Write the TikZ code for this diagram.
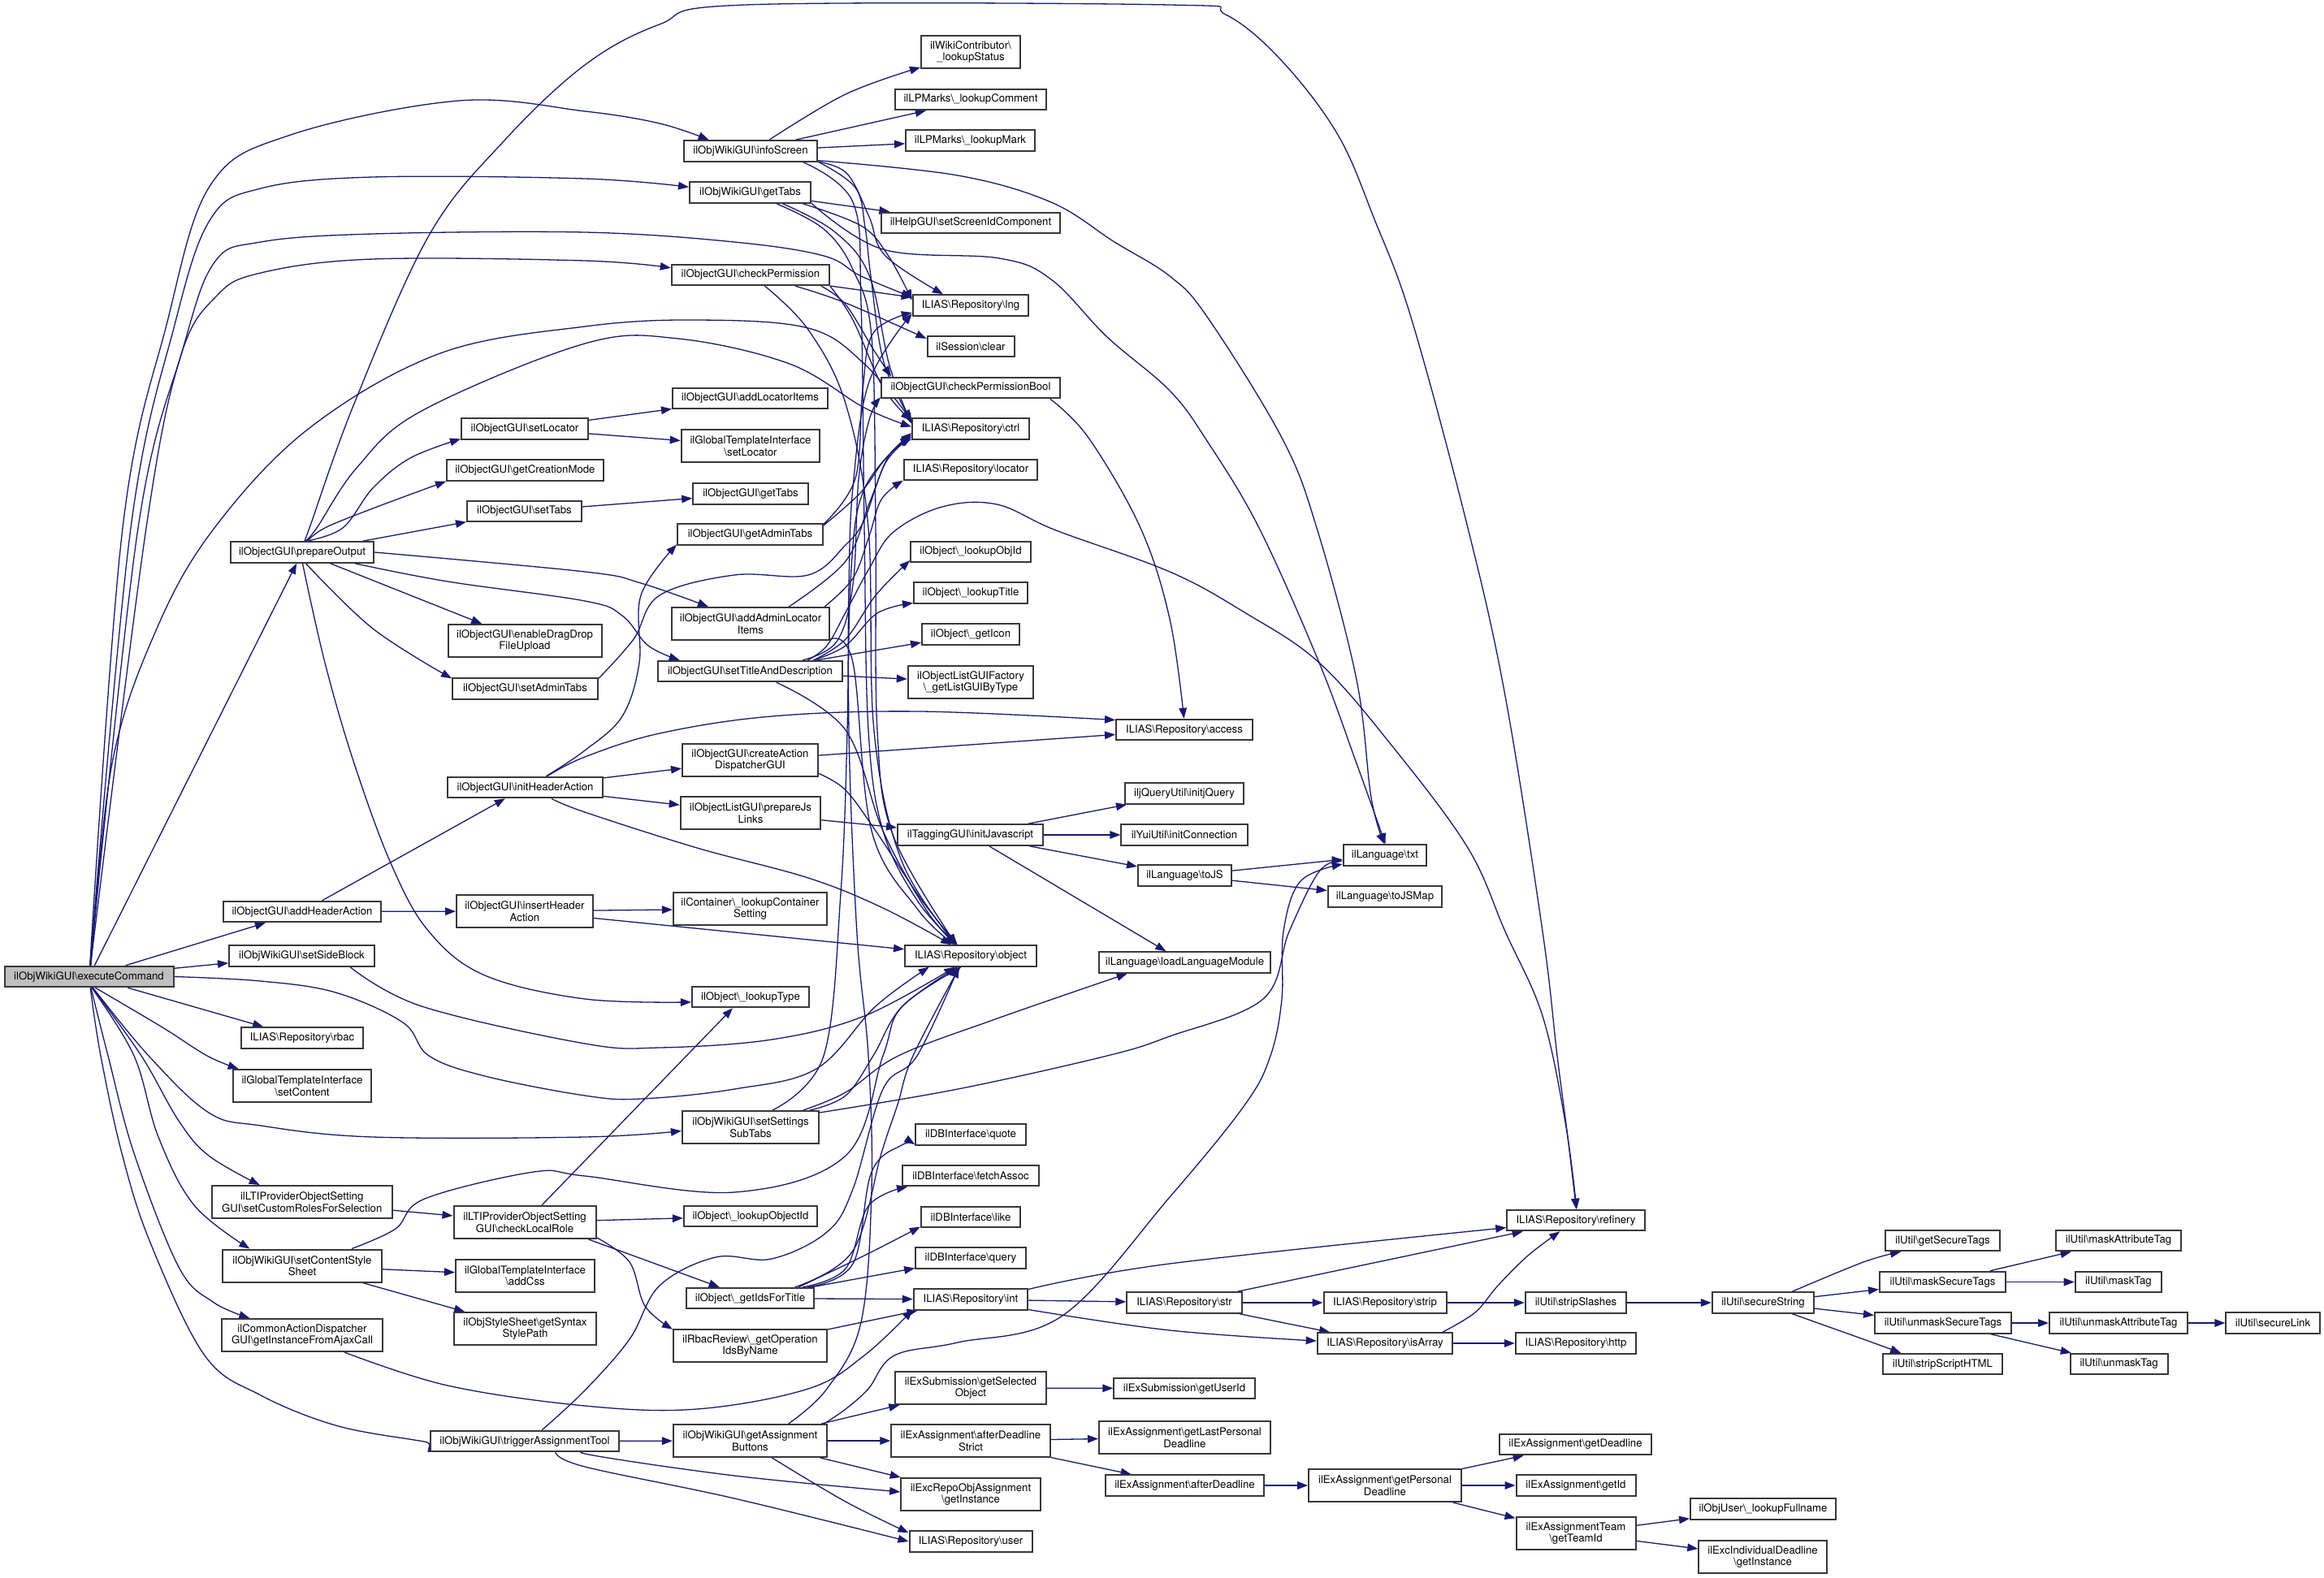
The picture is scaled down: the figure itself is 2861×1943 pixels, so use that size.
\documentclass[tikz,border=0pt]{standalone}
\usepackage{fontspec}
\setmainfont{TeX Gyre Heros}
\usetikzlibrary{arrows.meta}
\definecolor{edgeblue}{HTML}{191970}
\definecolor{boxline}{HTML}{383838}
\definecolor{rootfill}{HTML}{BFBFBF}
\newcommand\BSx{\textbackslash}
\pgfdeclarelayer{bg}
\pgfdeclarelayer{paper}
\pgfsetlayers{paper,bg,main}
\newcommand\ndA[4]{\node[fn,minimum width=#3pt,minimum height=12.75pt] (#1) at (#2) {#4};}
\newcommand\ndB[4]{\node[fn,minimum width=#3pt,minimum height=20pt] (#1) at (#2) {#4};}
\begin{document}
\begin{tikzpicture}[x=0.5pt,y=-0.5pt,
  fn/.style={draw=boxline,line width=1pt,fill=white,inner sep=0pt,align=center,
    font=\fontsize{6.6}{7.3}\selectfont},
  cx/.style={draw=edgeblue,line width=0.65pt,line join=round,-{Triangle[length=6.5pt,width=4.8pt]}}]
\useasboundingbox (0,0) rectangle (2861,1943);
\begin{pgfonlayer}{paper}
\fill[white] (0,0) rectangle (2861,1943);
\end{pgfonlayer}
% ---------------- nodes ----------------
\node[fn,fill=rootfill,minimum width=104pt,minimum height=12.75pt] (E) at (109.5,1202.5) {ilObjWikiGUI\BSx executeCommand};
\ndA{prepareOutput}{372,680}{88}{ilObjectGUI\BSx prepareOutput}
\ndA{addHeaderAction}{372,1122.5}{97.2}{ilObjectGUI\BSx addHeaderAction}
\ndA{setSideBlock}{371.5,1177}{89.5}{ilObjWikiGUI\BSx setSideBlock}
\ndA{rbac}{372,1278}{75.2}{ILIAS\BSx Repository\BSx rbac}
\ndB{setContent}{372,1337}{85.2}{ilGlobalTemplateInterface\\\BSx setContent}
\ndB{setCustomRoles}{371.7,1480}{111}{ilLTIProviderObjectSetting\\GUI\BSx setCustomRolesForSelection}
\ndB{setContentStyleSheet}{372,1558.5}{98.2}{ilObjWikiGUI\BSx setContentStyle\\Sheet}
\ndB{ajax}{372,1644}{98.8}{ilCommonActionDispatcher\\GUI\BSx getInstanceFromAjaxCall}
\ndA{setLocator}{646,528}{78}{ilObjectGUI\BSx setLocator}
\ndA{getCreationMode}{646.5,579}{96.5}{ilObjectGUI\BSx getCreationMode}
\ndA{setTabs}{645.5,629.5}{70.5}{ilObjectGUI\BSx setTabs}
\ndB{enableDragDrop}{646,789}{94.5}{ilObjectGUI\BSx enableDragDrop\\FileUpload}
\ndA{setAdminTabs}{646.5,848}{89.5}{ilObjectGUI\BSx setAdminTabs}
\ndA{initHeaderAction}{646.5,969.5}{95.5}{ilObjectGUI\BSx initHeaderAction}
\ndB{insertHeaderAction}{646,1122}{84}{ilObjectGUI\BSx insertHeader\\Action}
\ndB{checkLocalRole}{646,1505}{87.5}{ilLTIProviderObjectSetting\\GUI\BSx checkLocalRole}
\ndB{addCss}{646.5,1570.5}{85.5}{ilGlobalTemplateInterface\\\BSx addCss}
\ndB{getSyntaxStylePath}{646.5,1636}{87.6}{ilObjStyleSheet\BSx getSyntax\\StylePath}
\ndA{triggerAssignmentTool}{646,1774.5}{116}{ilObjWikiGUI\BSx triggerAssignmentTool}
\ndA{infoScreen}{924,186}{82.15}{ilObjWikiGUI\BSx infoScreen}
\ndA{wGetTabs}{923.5,237}{74.5}{ilObjWikiGUI\BSx getTabs}
\ndA{checkPermission}{924,338.5}{97.25}{ilObjectGUI\BSx checkPermission}
\ndA{addLocatorItems}{923.5,490.5}{95.5}{ilObjectGUI\BSx addLocatorItems}
\ndB{gtiSetLocator}{924,549}{85.25}{ilGlobalTemplateInterface\\\BSx setLocator}
\ndA{oGetTabs}{924,608}{70.8}{ilObjectGUI\BSx getTabs}
\ndA{getAdminTabs}{923.5,658}{89.5}{ilObjectGUI\BSx getAdminTabs}
\ndB{addAdminLocatorItems}{924,768}{97.25}{ilObjectGUI\BSx addAdminLocator\\Items}
\ndA{setTitleAndDescription}{923.5,826.6}{113.5}{ilObjectGUI\BSx setTitleAndDescription}
\ndB{createADGUI}{923.5,936}{83.5}{ilObjectGUI\BSx createAction\\DispatcherGUI}
\ndB{prepareJsLinks}{924,1001}{86.25}{ilObjectListGUI\BSx prepareJs\\Links}
\ndB{lookupContainerSetting}{923.5,1119}{94.5}{ilContainer\BSx\_lookupContainer\\Setting}
\ndA{lookupType}{924,1227.5}{72.1}{ilObject\BSx\_lookupType}
\ndB{setSettingsSubTabs}{924,1388}{84.1}{ilObjWikiGUI\BSx setSettings\\SubTabs}
\ndA{lookupObjectId}{924,1497.7}{82.15}{ilObject\BSx\_lookupObjectId}
\ndA{getIdsForTitle}{923.5,1598.6}{78.5}{ilObject\BSx\_getIdsForTitle}
\ndB{getOpIds}{923.5,1657}{94.5}{ilRbacReview\BSx\_getOperation\\IdsByName}
\ndB{getAssignmentButtons}{923.5,1774}{94.6}{ilObjWikiGUI\BSx getAssignment\\Buttons}
\ndB{lookupStatus}{1195,64}{61}{ilWikiContributor\BSx\\\_lookupStatus}
\ndA{lookupComment}{1195,122.5}{93.25}{ilLPMarks\BSx\_lookupComment}
\ndA{lookupMark}{1194.5,173}{79.5}{ilLPMarks\BSx\_lookupMark}
\ndA{setScreenId}{1195,274.5}{110}{ilHelpGUI\BSx setScreenIdComponent}
\ndA{lng}{1195,376}{71.25}{ILIAS\BSx Repository\BSx lng}
\ndA{clear}{1195,426.5}{53.5}{ilSession\BSx clear}
\ndA{checkPermissionBool}{1195,477.5}{110}{ilObjectGUI\BSx checkPermissionBool}
\ndA{ctrl}{1195,528}{72}{ILIAS\BSx Repository\BSx ctrl}
\ndA{locator}{1195,578.5}{82.25}{ILIAS\BSx Repository\BSx locator}
\ndA{lookupObjId}{1195,679.5}{73.85}{ilObject\BSx\_lookupObjId}
\ndA{lookupTitle}{1195,730}{70}{ilObject\BSx\_lookupTitle}
\ndA{getIcon}{1195,781}{60}{ilObject\BSx\_getIcon}
\ndB{listGUIByType}{1195,840}{77.2}{ilObjectListGUIFactory\\\BSx\_getListGUIByType}
\ndA{initJavascript}{1194.5,1028}{89.5}{ilTaggingGUI\BSx initJavascript}
\ndA{object}{1195,1177}{81}{ILIAS\BSx Repository\BSx object}
\ndA{quote}{1195,1397}{67.85}{ilDBInterface\BSx quote}
\ndA{fetchAssoc}{1195,1447.6}{84.15}{ilDBInterface\BSx fetchAssoc}
\ndA{like}{1195,1498.5}{61.15}{ilDBInterface\BSx like}
\ndA{query}{1195,1549}{67.85}{ilDBInterface\BSx query}
\ndA{int}{1195,1600}{70.25}{ILIAS\BSx Repository\BSx int}
\ndB{getSelectedObject}{1195,1709}{92.75}{ilExSubmission\BSx getSelected\\Object}
\ndB{afterDeadlineStrict}{1195,1774}{97.75}{ilExAssignment\BSx afterDeadline\\Strict}
\ndB{excRepoGetInstance}{1195,1840}{85.8}{ilExcRepoObjAssignment\\\BSx getInstance}
\ndA{user}{1195,1898}{75.5}{ILIAS\BSx Repository\BSx user}
\ndA{access}{1458,898.5}{84}{ILIAS\BSx Repository\BSx access}
\ndA{initjQuery}{1458,977}{72.65}{iljQueryUtil\BSx initjQuery}
\ndA{initConnection}{1458,1028}{77.65}{ilYuiUtil\BSx initConnection}
\ndA{toJS}{1458.5,1078}{57.5}{ilLanguage\BSx toJS}
\ndA{loadLanguageModule}{1458.5,1185}{105.5}{ilLanguage\BSx loadLanguageModule}
\ndA{str}{1458,1604}{70.7}{ILIAS\BSx Repository\BSx str}
\ndA{getUserId}{1458,1709.5}{86.75}{ilExSubmission\BSx getUserId}
\ndB{getLastPersonalDeadline}{1458.5,1770}{105.5}{ilExAssignment\BSx getLastPersonal\\Deadline}
\ndA{afterDeadline}{1458.5,1829}{97.5}{ilExAssignment\BSx afterDeadline}
\ndA{txt}{1705,1053}{51.25}{ilLanguage\BSx txt}
\ndA{toJSMap}{1705,1104}{70.3}{ilLanguage\BSx toJSMap}
\ndA{strip}{1705,1604}{75.5}{ILIAS\BSx Repository\BSx strip}
\ndA{isArray}{1705,1654}{83.35}{ILIAS\BSx Repository\BSx isArray}
\ndB{getPersonalDeadline}{1705,1829}{93.8}{ilExAssignment\BSx getPersonal\\Deadline}
\ndA{refinery}{1940,1502.6}{84.75}{ILIAS\BSx Repository\BSx refinery}
\ndA{stripSlashes}{1940,1604}{62.2}{ilUtil\BSx stripSlashes}
\ndA{http}{1940,1654}{74.2}{ILIAS\BSx Repository\BSx http}
\ndA{getDeadline}{1939.5,1778.5}{93.5}{ilExAssignment\BSx getDeadline}
\ndA{getId}{1940,1829}{73.5}{ilExAssignment\BSx getId}
\ndB{getTeamId}{1940,1888}{73.5}{ilExAssignmentTeam\\\BSx getTeamId}
\ndA{secureString}{2170.5,1604}{62.7}{ilUtil\BSx secureString}
\ndA{lookupFullname}{2170.5,1858}{89.5}{ilObjUser\BSx\_lookupFullname}
\ndB{excIndivGetInstance}{2170,1917}{78.75}{ilExcIndividualDeadline\\\BSx getInstance}
\ndA{getSecureTags}{2391.5,1527.5}{70.35}{ilUtil\BSx getSecureTags}
\ndA{maskSecureTags}{2391.5,1578.5}{77.5}{ilUtil\BSx maskSecureTags}
\ndA{unmaskSecureTags}{2392,1629}{84}{ilUtil\BSx unmaskSecureTags}
\ndA{stripScriptHTML}{2391.5,1679.6}{73.5}{ilUtil\BSx stripScriptHTML}
\ndA{maskAttributeTag}{2608,1527.5}{77.35}{ilUtil\BSx maskAttributeTag}
\ndA{maskTag}{2608,1578.5}{53.3}{ilUtil\BSx maskTag}
\ndA{unmaskAttributeTag}{2608,1629}{85}{ilUtil\BSx unmaskAttributeTag}
\ndA{unmaskTag}{2608.6,1679.6}{60.1}{ilUtil\BSx unmaskTag}
\ndA{secureLink}{2798,1629}{57.65}{ilUtil\BSx secureLink}
% ---------------- edges ----------------
\begin{pgfonlayer}{bg}
% executeCommand
\draw[cx] plot[smooth,tension=0.6] coordinates {(E.85) (151,650) (205,400) (259,228) (358,166) (565,124) (720,137) (812,152) (infoScreen.165)};
\draw[cx] plot[smooth,tension=0.6] coordinates {(E.84) (161,650) (215,400) (259,270) (321,232) (459,218) (720,220) (wGetTabs.175)};
\draw[cx] plot[smooth,tension=0.6] coordinates {(E.83) (170,650) (225,430) (264,323) (321,298) (459,288) (720,286) (904,298) (1014,315) (1060,340) (lng.172)};
\draw[cx] plot[smooth,tension=0.6] coordinates {(E.82) (180,650) (222,440) (266,365) (321,336) (459,319) (720,321) (checkPermission.175)};
\draw[cx] plot[smooth,tension=0.6] coordinates {(E.80) (138,940) (193,774) (264,650) (381,527) (542,435) (720,402) (858,394) (995,404) (1064,448) (ctrl.172)};
\draw[cx] (E) -- (prepareOutput);
\draw[cx] (E) -- (addHeaderAction);
\draw[cx] (E) -- (setSideBlock);
\draw[cx] plot[smooth,tension=0.6] coordinates {(E.east) (321,1208) (413,1222) (496,1259) (528,1300) (597,1325) (720,1349) (789,1353) (904,1341) (1005,1316) (1078,1239) (object.-165)};
\draw[cx] (E) -- (rbac);
\draw[cx] plot[smooth,tension=0.6] coordinates {(E.-60) (200,1265) (255,1300) (setContent.165)};
\draw[cx] plot[smooth,tension=0.6] coordinates {(E.-70) (183,1300) (257,1370) (321,1386) (459,1400) (720,1400) (setSettingsSubTabs.183)};
\draw[cx] plot[smooth,tension=0.6] coordinates {(E.-73) (174,1300) (220,1380) (257,1423) (setCustomRoles.158)};
\draw[cx] plot[smooth,tension=0.6] coordinates {(E.-76) (165,1300) (195,1400) (239,1484) (setContentStyleSheet.162)};
\draw[cx] plot[smooth,tension=0.6] coordinates {(E.-80) (133,1300) (165,1420) (220,1560) (262,1603) (ajax.162)};
\draw[cx] plot[smooth,tension=0.6] coordinates {(E.-83) (124,1300) (150,1420) (185,1530) (252,1669) (321,1718) (413,1755) (510,1773) (triggerAssignmentTool.west)};
% prepareOutput
\draw[cx] plot[smooth,tension=0.6] coordinates {(prepareOutput.70) (422,650) (459,601) (505,564) (setLocator.189)};
\draw[cx] plot[smooth,tension=0.6] coordinates {(prepareOutput.65) (400,650) (459,626) (getCreationMode.188)};
\draw[cx] (prepareOutput) -- (setTabs);
\draw[cx] plot[smooth,tension=0.6] coordinates {(prepareOutput.east) (720,704) (789,718) (addAdminLocatorItems.158)};
\draw[cx] plot[smooth,tension=0.6] coordinates {(prepareOutput.-12) (551,716) (720,740) (766,758) (798,795) (setTitleAndDescription.171)};
\draw[cx] (prepareOutput) -- (enableDragDrop);
\draw[cx] plot[smooth,tension=0.6] coordinates {(prepareOutput.-72) (459,774) (setAdminTabs.172)};
\draw[cx] plot[smooth,tension=0.6] coordinates {(prepareOutput.-88) (400,816) (436,940) (482,1065) (528,1147) (597,1201) (720,1230) (lookupType.185)};
\draw[cx] plot[smooth,tension=0.6] coordinates {(prepareOutput.75) (390,650) (440,575) (519,506) (720,423) (835,417) (972,448) (1064,502) (ctrl.178)};
\draw[cx] plot[smooth,tension=0.6] coordinates {(prepareOutput.80) (381,650) (436,497) (528,290) (620,174) (720,80) (812,30) (917,6) (1440,6) (1509,18) (1578,75) (1647,166) (1692,270) (1738,394) (1807,650) (1853,857) (1899,1147) (1917,1300) (1930,1400) (refinery.88)};
\draw[cx] (setLocator) -- (addLocatorItems);
\draw[cx] (setLocator) -- (gtiSetLocator);
\draw[cx] (setTabs) -- (oGetTabs);
% infoScreen
\draw[cx] plot[smooth,tension=0.6] coordinates {(infoScreen.31) (1041,116) (lookupStatus.197)};
\draw[cx] (infoScreen.14) -- (lookupComment.194);
\draw[cx] (infoScreen) -- (lookupMark);
\draw[cx] plot[smooth,tension=0.6] coordinates {(infoScreen.-8) (1179,216) (1294,249) (1372,298) (1440,340) (1486,390) (1578,539) (1621,650) (1670,837) (1688,982) (txt.93)};
\draw[cx] plot[smooth,tension=0.6] coordinates {(infoScreen.-9) (1043,214) (1070,267) (1090,315) (lng.158)};
\draw[cx] plot[smooth,tension=0.6] coordinates {(infoScreen.-9) (1053,231) (1065,280) (1072,340) (1088,446) (ctrl.172)};
\draw[cx] plot[smooth,tension=0.6] coordinates {(infoScreen.-12) (1050,249) (1060,373) (1064,650) (1069,899) (1087,1023) (1130,1110) (object.140)};
% ObjWikiGUI getTabs
\draw[cx] (wGetTabs) -- (setScreenId);
\draw[cx] plot[smooth,tension=0.6] coordinates {(wGetTabs.-12) (1060,278) (1093,314) (lng.175)};
\draw[cx] plot[smooth,tension=0.6] coordinates {(wGetTabs.-19) (1027,285) (1070,339) (1095,450) (ctrl.175)};
\draw[cx] plot[smooth,tension=0.6] coordinates {(wGetTabs.-23) (1014,282) (1050,332) (1073,415) (1078,650) (1080,900) (1100,1030) (object.142)};
\draw[cx] plot[smooth,tension=0.6] coordinates {(wGetTabs.-10) (1087,307) (1230,318) (1294,344) (1363,415) (1440,481) (1486,543) (1550,650) (1624,816) (1670,940) (txt.88)};
% checkPermission
\draw[cx] (checkPermission) -- (lng);
\draw[cx] plot[smooth,tension=0.6] coordinates {(checkPermission.-14) (1041,373) (clear.170)};
\draw[cx] plot[smooth,tension=0.6] coordinates {(checkPermission.-9) (1041,375) (1075,430) (checkPermissionBool.172)};
\draw[cx] plot[smooth,tension=0.6] coordinates {(checkPermission.-8.5) (1050,394) (1087,477) (ctrl.172)};
\draw[cx] plot[smooth,tension=0.6] coordinates {(checkPermission.-38) (995,406) (1041,497) (1069,650) (1076,900) (1110,1060) (object.142)};
% getAdminTabs, setAdminTabs, addAdminLocatorItems
\draw[cx] plot[smooth,tension=0.6] coordinates {(getAdminTabs.8) (1053,589) (1062,480) (1075,410) (lng.187)};
\draw[cx] plot[smooth,tension=0.6] coordinates {(getAdminTabs.7) (1060,606) (1090,565) (ctrl.186)};
\draw[cx] plot[smooth,tension=0.6] coordinates {(setAdminTabs.8) (780,787) (812,733) (904,708) (995,708) (1041,671) (1064,640) (1090,570) (ctrl.188)};
\draw[cx] plot[smooth,tension=0.6] coordinates {(addAdminLocatorItems.24) (1041,691) (1070,620) (1095,560) (ctrl.190)};
\draw[cx] plot[smooth,tension=0.6] coordinates {(addAdminLocatorItems.13) (1050,712) (1070,660) (1085,615) (locator.189)};
\draw[cx] plot[smooth,tension=0.6] coordinates {(addAdminLocatorItems.-11) (1050,816) (1073,1023) (1130,1120) (object.145)};
% setTitleAndDescription
\draw[cx] plot[smooth,tension=0.6] coordinates {(setTitleAndDescription.10) (1041,787) (1078,733) (lookupObjId.188)};
\draw[cx] plot[smooth,tension=0.6] coordinates {(setTitleAndDescription.10) (1041,795) (1080,755) (lookupTitle.190)};
\draw[cx] (setTitleAndDescription) -- (getIcon);
\draw[cx] (setTitleAndDescription) -- (listGUIByType);
\draw[cx] plot[smooth,tension=0.6] coordinates {(setTitleAndDescription.-23) (1041,899) (1087,1023) (1140,1120) (object.143)};
\draw[cx] plot[smooth,tension=0.6] coordinates {(setTitleAndDescription.11) (1018,795) (1041,754) (1070,700) (1100,655) (1160,624) (1227,621) (1300,653) (1440,704) (1532,754) (1624,816) (1715,920) (1807,1044) (1853,1147) (1899,1251) (1927,1382) (refinery.86)};
\draw[cx] plot[smooth,tension=0.6] coordinates {(setTitleAndDescription.12) (1030,790) (1050,720) (1057,590) (1070,517) (checkPermissionBool.186)};
% initHeaderAction group
\draw[cx] (addHeaderAction) -- (initHeaderAction);
\draw[cx] (addHeaderAction) -- (insertHeaderAction);
\draw[cx] plot[smooth,tension=0.6] coordinates {(initHeaderAction.28) (720,924) (766,882) (787,816) (789,733) (getAdminTabs.188)};
\draw[cx] plot[smooth,tension=0.6] coordinates {(initHeaderAction.27) (720,932) (812,903) (950,882) (1133,876) (access.172)};
\draw[cx] (initHeaderAction) -- (createADGUI);
\draw[cx] (initHeaderAction) -- (prepareJsLinks);
\draw[cx] plot[smooth,tension=0.6] coordinates {(initHeaderAction.-23) (720,1000) (858,1044) (995,1081) (1087,1118) (object.150)};
\draw[cx] (createADGUI) -- (access);
\draw[cx] plot[smooth,tension=0.6] coordinates {(createADGUI.-11) (1041,973) (1078,1023) (1133,1106) (object.140)};
\draw[cx] (prepareJsLinks) -- (initJavascript);
\draw[cx] (initJavascript) -- (initjQuery);
\draw[cx] (initJavascript) -- (initConnection);
\draw[cx] (initJavascript) -- (toJS);
\draw[cx] (initJavascript) -- (loadLanguageModule);
\draw[cx] (toJS) -- (txt);
\draw[cx] (toJS) -- (toJSMap);
\draw[cx] plot[smooth,tension=0.6] coordinates {(checkPermissionBool.-8) (1340,539) (1404,650) (1440,762) (access.92)};
\draw[cx] (insertHeaderAction) -- (lookupContainerSetting);
\draw[cx] (insertHeaderAction) -- (object);
\draw[cx] plot[smooth,tension=0.6] coordinates {(setSideBlock.-13) (519,1239) (720,1285) (812,1290) (950,1280) (1064,1251) (object.-145)};
% setSettingsSubTabs
\draw[cx] plot[smooth,tension=0.6] coordinates {(setSettingsSubTabs.38) (1014,1300) (1035,1100) (1043,900) (1045,720) (1050,600) (1070,470) (lng.188)};
\draw[cx] plot[smooth,tension=0.6] coordinates {(setSettingsSubTabs.16) (1041,1349) (1075,1300) (1110,1240) (object.-140)};
\draw[cx] plot[smooth,tension=0.6] coordinates {(setSettingsSubTabs.18) (1041,1345) (1106,1300) (1225,1255) (loadLanguageModule.191)};
\draw[cx] plot[smooth,tension=0.6] coordinates {(setSettingsSubTabs.12) (1179,1341) (1363,1300) (1440,1276) (1555,1230) (1587,1147) (1624,1073) (txt.188)};
% LTI / style sheet / ajax
\draw[cx] (setCustomRoles) -- (checkLocalRole);
\draw[cx] (checkLocalRole.45) -- (lookupType.212);
\draw[cx] (checkLocalRole) -- (lookupObjectId);
\draw[cx] (checkLocalRole.-15) -- (getIdsForTitle.160);
\draw[cx] plot[smooth,tension=0.6] coordinates {(checkLocalRole.-12) (775,1554) (794,1608) (getOpIds.168)};
\draw[cx] (setContentStyleSheet) -- (addCss);
\draw[cx] (setContentStyleSheet) -- (getSyntaxStylePath);
\draw[cx] plot[smooth,tension=0.6] coordinates {(setContentStyleSheet.19) (487,1513) (523,1476) (657,1443) (720,1448) (904,1468) (1041,1423) (1087,1300) (1110,1240) (object.-130)};
\draw[cx] plot[smooth,tension=0.6] coordinates {(ajax.-22) (551,1706) (720,1731) (858,1735) (995,1710) (1064,1669) (int.190)};
\draw[cx] (getOpIds) -- (int);
% getIdsForTitle
\draw[cx] plot[smooth,tension=0.6] coordinates {(getIdsForTitle.11) (1050,1556) (1073,1443) (1110,1410) (quote.190)};
\draw[cx] plot[smooth,tension=0.6] coordinates {(getIdsForTitle.12) (1041,1562) (1069,1485) (fetchAssoc.190)};
\draw[cx] plot[smooth,tension=0.6] coordinates {(getIdsForTitle.13) (1064,1546) (like.191)};
\draw[cx] (getIdsForTitle) -- (query);
\draw[cx] (getIdsForTitle) -- (int);
\draw[cx] plot[smooth,tension=0.6] coordinates {(getIdsForTitle.14) (1050,1540) (1085,1420) (1105,1360) (1124,1300) (object.-135)};
% triggerAssignmentTool / getAssignmentButtons
\draw[cx] (triggerAssignmentTool) -- (getAssignmentButtons);
\draw[cx] plot[smooth,tension=0.6] coordinates {(triggerAssignmentTool.-6) (720,1790) (904,1817) (excRepoGetInstance.178)};
\draw[cx] plot[smooth,tension=0.6] coordinates {(triggerAssignmentTool.-20) (720,1806) (904,1845) (user.180)};
\draw[cx] plot[smooth,tension=0.6] coordinates {(triggerAssignmentTool.33) (720,1712) (775,1649) (812,1583) (881,1548) (950,1550) (1018,1517) (1050,1464) (1087,1341) (1129,1300) (object.-137)};
\draw[cx] (getAssignmentButtons) -- (getSelectedObject);
\draw[cx] (getAssignmentButtons) -- (afterDeadlineStrict);
\draw[cx] (getAssignmentButtons) -- (excRepoGetInstance);
\draw[cx] plot[smooth,tension=0.6] coordinates {(getAssignmentButtons.-38) (1041,1849) (user.172)};
\draw[cx] plot[smooth,tension=0.6] coordinates {(getAssignmentButtons.13) (1041,1735) (1069,1710) (1101,1669) (1179,1653) (1308,1620) (1440,1474) (1532,1361) (1564,1300) (1578,1230) (1580,1147) (1601,1085) (txt.192)};
\draw[cx] plot[smooth,tension=0.6] coordinates {(getAssignmentButtons.24) (1018,1710) (1060,1628) (1073,1464) (1069,1300) (1055,1150) (1045,900) (1048,700) (1065,600) (ctrl.184)};
\draw[cx] (getSelectedObject) -- (getUserId);
\draw[cx] (afterDeadlineStrict) -- (getLastPersonalDeadline);
\draw[cx] (afterDeadlineStrict) -- (afterDeadline);
\draw[cx] (afterDeadline) -- (getPersonalDeadline);
\draw[cx] (getPersonalDeadline) -- (getDeadline);
\draw[cx] (getPersonalDeadline) -- (getId);
\draw[cx] (getPersonalDeadline) -- (getTeamId);
\draw[cx] (getTeamId) -- (lookupFullname);
\draw[cx] (getTeamId) -- (excIndivGetInstance);
% int / str / isArray
\draw[cx] plot[smooth,tension=0.6] coordinates {(int.10) (1440,1556) (refinery.186)};
\draw[cx] (int) -- (str);
\draw[cx] plot[smooth,tension=0.6] coordinates {(int.-10) (1440,1638) (isArray.178)};
\draw[cx] (str) -- (refinery);
\draw[cx] (str) -- (strip);
\draw[cx] (str) -- (isArray);
\draw[cx] plot[smooth,tension=0.6] coordinates {(isArray.11) (1816,1616) (1844,1583) (1881,1546) (refinery.-145)};
\draw[cx] (isArray) -- (http);
\draw[cx] (strip) -- (stripSlashes);
\draw[cx] (stripSlashes) -- (secureString);
\draw[cx] plot[smooth,tension=0.6] coordinates {(secureString.21) (2294,1554) (getSecureTags.195)};
\draw[cx] (secureString) -- (maskSecureTags);
\draw[cx] (secureString) -- (unmaskSecureTags);
\draw[cx] plot[smooth,tension=0.6] coordinates {(secureString.-21) (2294,1649) (stripScriptHTML.165)};
\draw[cx] (maskSecureTags) -- (maskAttributeTag);
\draw[cx] (maskSecureTags) -- (maskTag);
\draw[cx] (unmaskSecureTags) -- (unmaskAttributeTag);
\draw[cx] (unmaskSecureTags) -- (unmaskTag);
\draw[cx] (unmaskAttributeTag) -- (secureLink);
\end{pgfonlayer}
\end{tikzpicture}
\end{document}
